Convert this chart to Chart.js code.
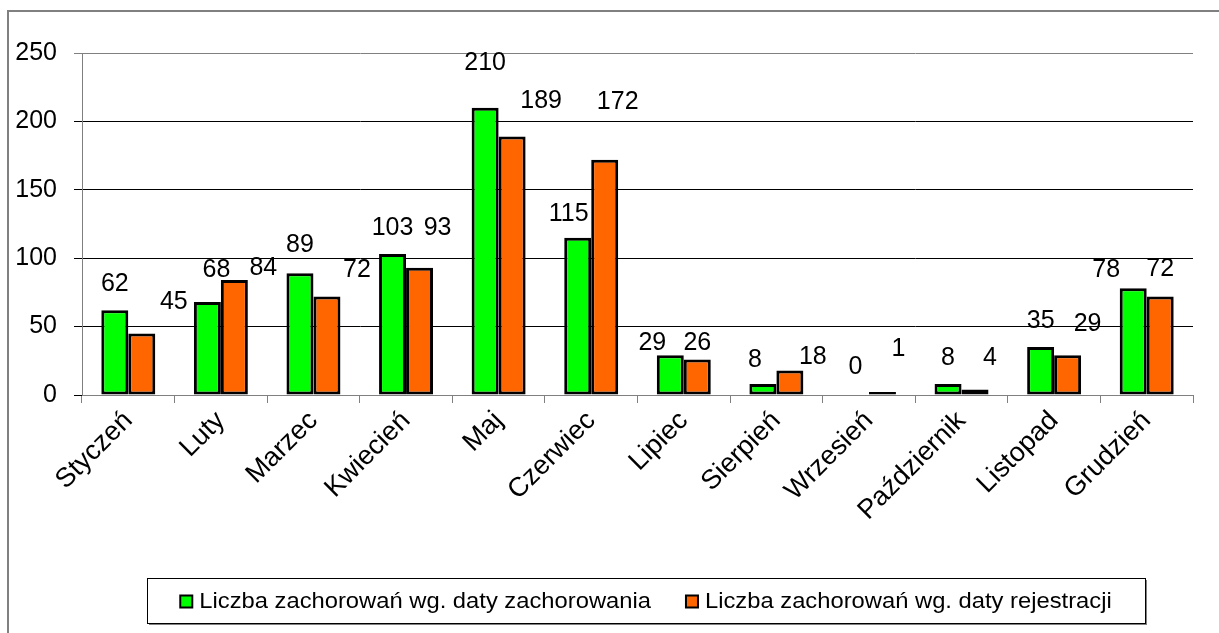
<!DOCTYPE html>
<html>
<head>
<meta charset="utf-8">
<script src="https://cdn.jsdelivr.net/npm/chart.js@4/dist/chart.umd.min.js"></script>
<style>
  html, body { margin: 0; padding: 0; background: #ffffff; }
  #wrap { position: relative; width: 1219px; height: 633px; }
</style>
</head>
<body>
<div id="wrap"><canvas id="c" width="1219" height="633"></canvas></div>
<script>
const categories = ["Styczeń", "Luty", "Marzec", "Kwiecień", "Maj", "Czerwiec", "Lipiec", "Sierpień", "Wrzesień", "Październik", "Listopad", "Grudzień"];
const seriesNames = ["Liczba zachorowań wg. daty zachorowania", "Liczba zachorowań wg. daty rejestracji"];
const byOnset = [62, 68, 89, 103, 210, 115, 29, 8, 0, 8, 35, 78];
const byRegistration = [45, 84, 72, 93, 189, 172, 26, 18, 1, 4, 29, 72];
const yTicks = [0, 50, 100, 150, 200, 250];

// Label nudges (pixels, relative to default position above each bar) — layout only
const labelNudgeOnset = [[0,0],[9,-6],[0,-2],[0,0],[0,-19],[-9,2],[-18,14],[-8,2],[0,-2],[0,0],[0,0],[-27,8]];
const labelNudgeReg = [[32,-5],[29,14],[30,0],[18,-14],[29,-9],[13,-32],[0,10],[23,13],[16,-19],[15,-5],[20,-5],[0,-1]];

const FONT = "'Liberation Sans', Arial, sans-serif";
const GREEN = "#00ff00";
const ORANGE = "#ff6600";

const framePlugin = {
  id: "frame",
  beforeDraw(chart) {
    const ctx = chart.ctx;
    ctx.save();
    ctx.fillStyle = "#ffffff";
    ctx.fillRect(0, 0, chart.width, chart.height);
    ctx.strokeStyle = "#808080";
    ctx.lineWidth = 2;
    ctx.beginPath();
    ctx.moveTo(8, chart.height);
    ctx.lineTo(8, 11);
    ctx.lineTo(chart.width, 11);
    ctx.stroke();
    ctx.restore();
  }
};

const labelPlugin = {
  id: "valueLabels",
  afterDatasetsDraw(chart) {
    const ctx = chart.ctx;
    ctx.save();
    ctx.font = "25px " + FONT;
    ctx.fillStyle = "#000000";
    ctx.textAlign = "center";
    ctx.textBaseline = "middle";
    const nudges = [labelNudgeOnset, labelNudgeReg];
    chart.data.datasets.forEach((ds, di) => {
      const meta = chart.getDatasetMeta(di);
      meta.data.forEach((bar, i) => {
        const n = nudges[di][i];
        const top = chart.scales.y.getPixelForValue(ds.data[i]);
        ctx.fillText(String(ds.data[i]), bar.x + n[0], top - 26 + n[1]);
      });
    });
    ctx.restore();
  }
};

const legendPlugin = {
  id: "boxLegend",
  afterDraw(chart) {
    const ctx = chart.ctx;
    ctx.save();
    const bx = 147, by = 578, bw = 998, bh = 45;
    ctx.fillStyle = "#808080";
    ctx.fillRect(bx + 2, by + bh, bw, 2);
    ctx.fillRect(bx + bw, by + 2, 2, bh);
    ctx.fillStyle = "#ffffff";
    ctx.fillRect(bx, by, bw, bh);
    ctx.strokeStyle = "#000000";
    ctx.lineWidth = 1;
    ctx.strokeRect(bx + 0.5, by + 0.5, bw, bh);
    ctx.font = "22px " + FONT;
    ctx.textBaseline = "middle";
    ctx.textAlign = "left";
    const stretch = 1.08;
    const cy = by + bh / 2 + 1;
    const items = chart.data.datasets.map(d => ({ label: d.label, color: d.backgroundColor }));
    const box = 12, gapBoxText = 7, gapItems = 35;
    let total = 0;
    items.forEach((it, k) => {
      it.w = ctx.measureText(it.label).width * stretch;
      total += box + gapBoxText + it.w + (k < items.length - 1 ? gapItems : 0);
    });
    let x = bx + (bw - total) / 2;
    items.forEach(it => {
      ctx.fillStyle = it.color;
      ctx.fillRect(x, cy - box / 2, box, box);
      ctx.strokeStyle = "#000000";
      ctx.lineWidth = 2;
      ctx.strokeRect(x, cy - box / 2, box, box);
      ctx.fillStyle = "#000000";
      ctx.save();
      ctx.translate(x + box + gapBoxText, cy);
      ctx.scale(stretch, 1);
      ctx.fillText(it.label, 0, 0);
      ctx.restore();
      x += box + gapBoxText + it.w + gapItems;
    });
    ctx.restore();
  }
};

new Chart(document.getElementById("c"), {
  type: "bar",
  data: {
    labels: categories,
    datasets: [
      { label: seriesNames[0], data: byOnset, backgroundColor: GREEN, borderColor: "#000000", borderWidth: 3, borderSkipped: false },
      { label: seriesNames[1], data: byRegistration, backgroundColor: ORANGE, borderColor: "#000000", borderWidth: 3, borderSkipped: false, minBarLength: 3 }
    ]
  },
  options: {
    responsive: false,
    animation: false,
    devicePixelRatio: 1,
    layout: { padding: { top: 53, right: 26, left: 0, bottom: 0 } },
    datasets: { bar: { categoryPercentage: 0.583, barPercentage: 1.0 } },
    plugins: {
      legend: { display: false },
      tooltip: { enabled: false },
      title: { display: false }
    },
    scales: {
      x: {
        afterFit(scale) { scale.height = 238; },
        grid: { offset: true, drawOnChartArea: false, drawTicks: true, tickLength: 8, color: "#808080", lineWidth: 1 },
        border: { display: true, color: "#808080", width: 1 },
        ticks: {
          color: "#000000",
          font: { family: FONT, size: 27 },
          minRotation: 45, maxRotation: 45,
          padding: 2,
          autoSkip: false
        }
      },
      y: {
        min: 0, max: 250,
        afterFit(scale) { scale.width = 82; },
        afterBuildTicks(scale) { scale.ticks = yTicks.map(v => ({ value: v })); },
        grid: {
          drawTicks: true, tickLength: 8,
          color: (c) => (c.tick && c.tick.value === 250 ? "#808080" : "#000000"),
          lineWidth: 1
        },
        border: { display: true, color: "#808080", width: 1 },
        ticks: {
          color: "#000000",
          font: { family: FONT, size: 25 },
          padding: 17,
          stepSize: 50
        }
      }
    }
  },
  plugins: [framePlugin, labelPlugin, legendPlugin]
});
</script>
</body>
</html>
